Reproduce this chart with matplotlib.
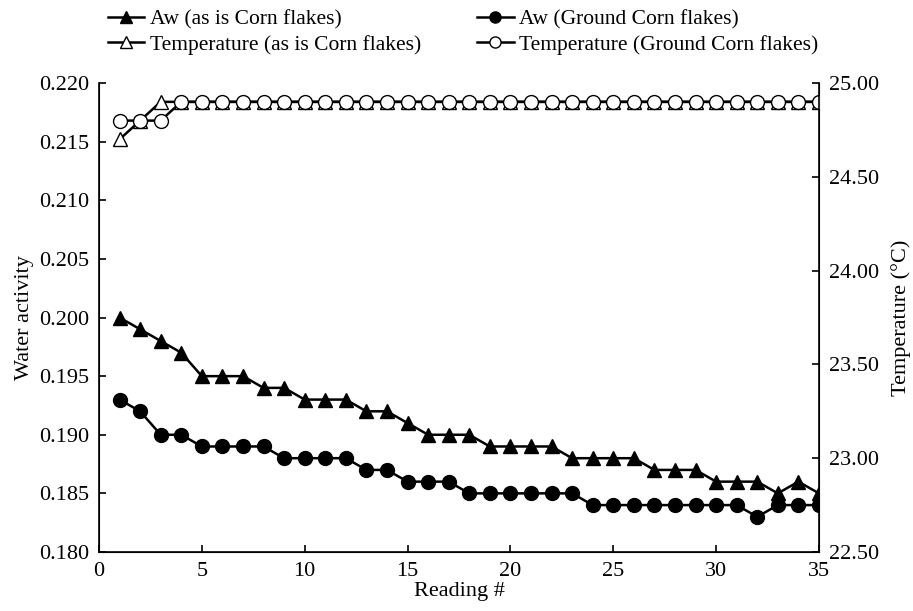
import numpy as np
import matplotlib.pyplot as plt

plt.rcParams['font.family'] = ['Liberation Serif', 'DejaVu Serif']

# Reading numbers
readings = list(range(1, 36))

# Water activity, as is corn flakes
aw_as_is = [0.200, 0.199, 0.198, 0.197, 0.195, 0.195, 0.195, 0.194, 0.194, 0.193,
            0.193, 0.193, 0.192, 0.192, 0.191, 0.190, 0.190, 0.190, 0.189, 0.189,
            0.189, 0.189, 0.188, 0.188, 0.188, 0.188, 0.187, 0.187, 0.187, 0.186,
            0.186, 0.186, 0.185, 0.186, 0.185]

# Water activity, ground corn flakes
aw_ground = [0.193, 0.192, 0.190, 0.190, 0.189, 0.189, 0.189, 0.189, 0.188, 0.188,
             0.188, 0.188, 0.187, 0.187, 0.186, 0.186, 0.186, 0.185, 0.185, 0.185,
             0.185, 0.185, 0.185, 0.184, 0.184, 0.184, 0.184, 0.184, 0.184, 0.184,
             0.184, 0.183, 0.184, 0.184, 0.184]

# Temperature (deg C)
temp_as_is = [24.7, 24.8, 24.9] + [24.9] * 32
temp_ground = [24.8, 24.8, 24.8] + [24.9] * 32

aw_ticks = [0.180, 0.185, 0.190, 0.195, 0.200, 0.205, 0.210, 0.215, 0.220]
temp_ticks = [22.5, 23.0, 23.5, 24.0, 24.5, 25.0]

fig, ax = plt.subplots(figsize=(9.13, 6.11), dpi=100)
fig.subplots_adjust(left=0.1084, right=0.897, bottom=0.0966, top=0.864)
ax2 = ax.twinx()

l1, = ax.plot(readings, aw_as_is, color='black', lw=1.8, marker='^', ms=10,
              label='Aw (as is Corn flakes)')
l2, = ax.plot(readings, aw_ground, color='black', lw=1.8, marker='o', ms=10,
              label='Aw (Ground Corn flakes)')
l3, = ax2.plot(readings, temp_as_is, color='black', lw=1.8, marker='^', ms=10,
               mfc='white', label='Temperature (as is Corn flakes)')
l4, = ax2.plot(readings, temp_ground, color='black', lw=1.8, marker='o', ms=10,
               mfc='white', label='Temperature (Ground Corn flakes)')

ax.set_xlim(0, 35)
ax.set_ylim(0.180, 0.220)
ax.set_yticks(aw_ticks)
ax.set_yticklabels(['%.3f' % v for v in aw_ticks])
ax2.set_ylim(22.5, 25.0)
ax2.set_yticks(temp_ticks)
ax2.set_yticklabels(['%.2f' % v for v in temp_ticks])
ax.set_xticks(range(0, 36, 5))

for a in (ax, ax2):
    a.spines['top'].set_visible(False)
    a.tick_params(direction='in', labelsize=16, length=5, width=1.2, pad=7)
ax.spines['left'].set_linewidth(1.2)
ax.spines['bottom'].set_linewidth(1.2)
ax2.spines['right'].set_linewidth(1.2)

ax.set_xlabel('Reading #', fontsize=16, labelpad=1)
ax.set_ylabel('Water activity', fontsize=16, labelpad=4)
ax2.set_ylabel('Temperature (°C)', fontsize=16, labelpad=9)

fig.legend(handles=[l1, l3, l2, l4], loc='upper left', bbox_to_anchor=(0.118, 0.985),
           ncol=2, frameon=False, fontsize=15.5, handlelength=1.7, handletextpad=0.25,
           columnspacing=2.6, labelspacing=0.25, borderpad=0, borderaxespad=0,
           markerscale=0.8)

fig.savefig('out.png', dpi=100)
